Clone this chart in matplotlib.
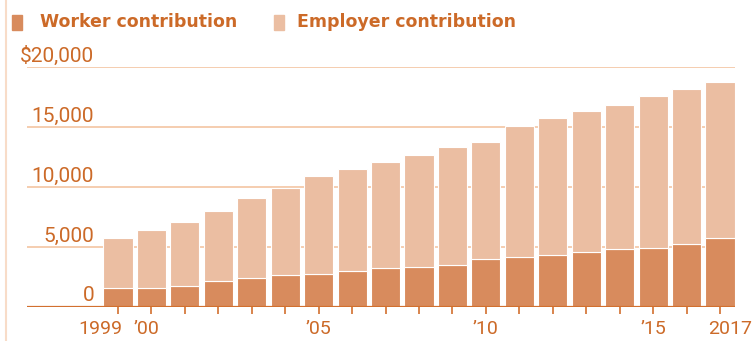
import numpy as np
import matplotlib.pyplot as plt
from matplotlib.patches import Rectangle
from matplotlib.transforms import ScaledTranslation

# Average annual family premium, split by who pays
years = list(range(1999, 2018))
worker = [1543, 1619, 1787, 2137, 2412, 2661, 2713, 2973, 3281, 3354,
          3515, 3997, 4129, 4316, 4565, 4823, 4955, 5277, 5714]
total = [5791, 6438, 7061, 8003, 9068, 9950, 10880, 11480, 12106, 12680,
         13375, 13770, 15073, 15745, 16351, 16834, 17545, 18142, 18764]
employer = [t - w for t, w in zip(total, worker)]

y_ticks = [0, 5000, 10000, 15000, 20000]
y_labels = ['0', '5,000', '10,000', '15,000', '$20,000']
x_label_map = {1999: '1999', 2000: "\u201900", 2005: "\u201905",
               2010: "\u201910", 2015: "\u201915", 2017: '2017'}
# nudges (px) so the end labels don't collide
x_label_nudge = {1999: -18, 2000: -5, 2017: 10}

text_col = '#cc6a28'
worker_col = '#d88b5d'
employer_col = '#ebbea2'
grid_col = '#f5c9a9'
base_col = '#d2702f'

W, H = 756, 341
fig = plt.figure(figsize=(W / 100, H / 100), dpi=100)

# axes: x from 27px to 735px, y baseline at 307px, top gridline at 67px
ax = fig.add_axes([27 / W, (H - 307) / H, (735 - 27) / W, (307 - 67) / H])
pitch = (720 - 118) / 18
ax.set_xlim((27 - 118) / pitch, (735 - 118) / pitch)
ax.set_ylim(0, 20000)
for s in ax.spines.values():
    s.set_visible(False)
ax.set_yticks([])

x = np.arange(len(years))
for v in y_ticks[1:]:
    ax.axhline(v, color=grid_col, lw=1.3, zorder=0)
ax.axhline(0, color=base_col, lw=1.6, zorder=3)

ax.bar(x, worker, width=0.87, color=worker_col, edgecolor='white', lw=0.8, zorder=2)
ax.bar(x, employer, bottom=worker, width=0.87, color=employer_col,
       edgecolor='white', lw=0.8, zorder=2)

for v, lab in zip(y_ticks, y_labels):
    ax.text((94 - 118) / pitch, v + 460, lab, ha='right', va='baseline',
            color=text_col, fontsize=15, family='Roboto')

ax.set_xticks(x)
ax.set_xticklabels([x_label_map.get(y, '') for y in years], family='Roboto')
ax.tick_params(axis='x', direction='out', length=5, width=1.2, color=base_col,
               labelcolor=text_col, labelsize=14, pad=4)
for yr, lab in zip(years, ax.get_xticklabels()):
    dx = x_label_nudge.get(yr, 0)
    if dx:
        lab.set_transform(lab.get_transform() +
                          ScaledTranslation(dx / 100, 0, fig.dpi_scale_trans))

# legend
fig.add_artist(Rectangle((12 / W, (H - 30) / H), 10 / W, 15 / H,
                         transform=fig.transFigure, color=worker_col))
fig.text(40 / W, (H - 22) / H, 'Worker contribution', ha='left', va='center',
         color=text_col, fontsize=12.5, fontweight='bold')
fig.add_artist(Rectangle((274 / W, (H - 30) / H), 10 / W, 15 / H,
                         transform=fig.transFigure, color=employer_col))
fig.text(297 / W, (H - 22) / H, 'Employer contribution', ha='left', va='center',
         color=text_col, fontsize=12.5, fontweight='bold')

# thin rule on the left edge
fig.add_artist(plt.Line2D([5.5 / W, 5.5 / W], [0, 1], transform=fig.transFigure,
                          color='#f8dcc8', lw=1.5))

fig.savefig('out.png', dpi=100)
